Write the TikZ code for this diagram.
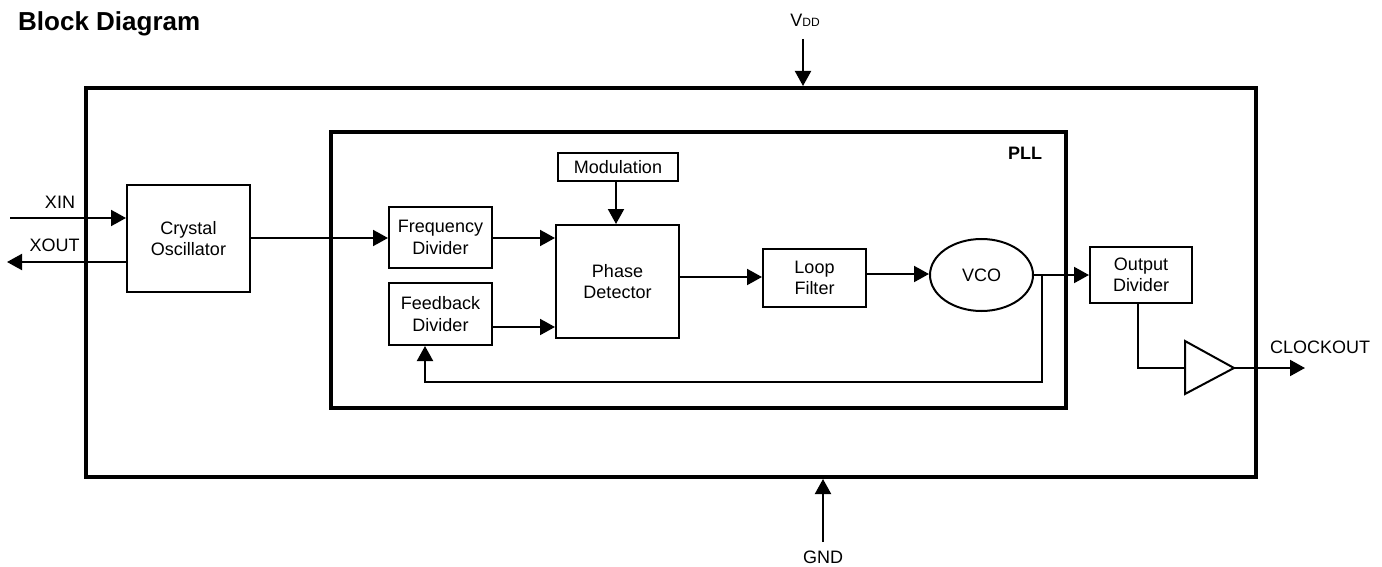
\documentclass[tikz,border=0pt]{standalone}
\usepackage{fontspec}
\setmainfont{Liberation Sans}
\usetikzlibrary{arrows.meta,shapes.geometric}
\begin{document}
\begin{tikzpicture}[x=1pt,y=-1pt,
  every node/.style={font=\fontsize{18}{21.5}\selectfont, inner sep=0pt},
  blk/.style={draw, line width=2pt, align=center},
  conn/.style={line width=2pt, -{Triangle[length=15pt,width=16pt]}},
  wire/.style={line width=2pt}]
\useasboundingbox (0,0) rectangle (1382,567);
% title
\node[font=\fontsize{26}{30}\selectfont\bfseries, anchor=west] (title) at (18,24) {Block Diagram};
% outer chip and PLL boxes
\node[draw, line width=4pt, minimum width=1170pt, minimum height=389pt] (chip) at (671,282.5) {};
\node[draw, line width=3.5pt, minimum width=735pt, minimum height=276pt] (pll) at (698.5,270) {};
\node[font=\fontsize{18}{21.5}\selectfont\bfseries] (plllbl) at (1025,153) {PLL};
% blocks
\node[blk, minimum width=123pt, minimum height=107pt] (xtal) at (188.5,238.5) {Crystal\\Oscillator};
\node[blk, minimum width=103pt, minimum height=61pt] (fdiv) at (440.5,237.5) {Frequency\\Divider};
\node[blk, minimum width=103pt, minimum height=62pt] (fbdiv) at (440.5,314) {Feedback\\Divider};
\node[blk, minimum width=120pt, minimum height=28pt] (mod) at (618,167) {Modulation};
\node[blk, minimum width=123pt, minimum height=113pt] (phase) at (617.5,281.5) {Phase\\Detector};
\node[blk, minimum width=103pt, minimum height=58pt] (loop) at (814.5,278) {Loop\\Filter};
\node[blk, ellipse, minimum width=103pt, minimum height=72pt] (vco) at (981.5,275) {VCO};
\node[blk, minimum width=102pt, minimum height=56pt] (odiv) at (1141,275) {Output\\Divider};
% labels
\node (xinlbl) at (60,202) {XIN};
\node (xoutlbl) at (54.5,245) {XOUT};
\node (vddlbl) at (805,20) {V{\fontsize{12}{14}\selectfont DD}};
\node (gndlbl) at (823,557) {GND};
\node (clklbl) at (1320,347) {CLOCKOUT};
% coordinates
\coordinate (xin) at (10,218);
\coordinate (xout) at (7,262);
\coordinate (vddtop) at (803,39);
\coordinate (gndbot) at (823,542);
\coordinate (br) at (1042,274);
\coordinate (bufin) at (1185,368);
\coordinate (bufout) at (1234,368);
\coordinate (buftop) at (1185,341);
\coordinate (bufbot) at (1185,394);
\coordinate (clk) at (1305,368);
% connectors
\draw[conn] (xin) -- (xin -| xtal.west);
\draw[conn] (xout -| xtal.west) -- (xout);
\draw[conn] (vddtop) -- (vddtop |- chip.north);
\draw[conn] (gndbot) -- (gndbot |- chip.south);
\draw[conn] (xtal.east |- 0,238) -- (fdiv.west |- 0,238);
\draw[conn] (fdiv.east |- 0,238) -- (phase.west |- 0,238);
\draw[conn] (fbdiv.east |- 0,327) -- (phase.west |- 0,327);
\draw[conn] (mod.south -| 616,0) -- (phase.north -| 616,0);
\draw[conn] (phase.east |- 0,277) -- (loop.west |- 0,277);
\draw[conn] (loop.east |- 0,274) -- (vco.west |- 0,274);
\draw[conn] (vco.east) -- (odiv.west |- vco.east);
\draw[conn] (br) -- ++(0,108) -| (fbdiv.south -| 425,0);
\draw[wire] (odiv.south -| 1138,0) |- (bufin);
\draw[wire, line join=miter] (buftop) -- (bufout) -- (bufbot) -- cycle;
\draw[conn] (bufout) -- (clk);
\end{tikzpicture}
\end{document}
